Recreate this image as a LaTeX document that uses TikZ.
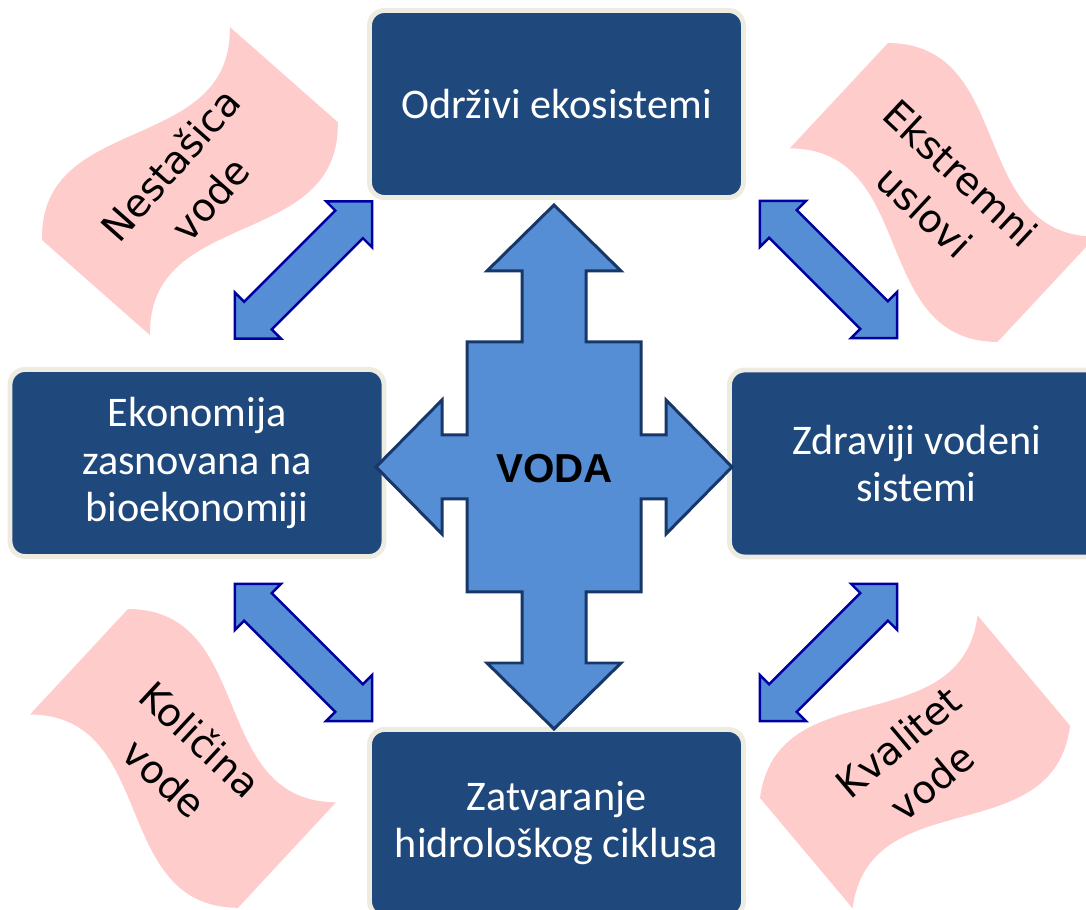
\documentclass[tikz,border=0pt]{standalone}
\usepackage{fontspec}
\setmainfont{Carlito}
\newfontfamily\flagfont{DejaVu Sans}
\newfontfamily\vodafont{Liberation Sans}

\definecolor{boxblue}{RGB}{31,73,125}
\definecolor{boxrim}{RGB}{238,236,225}
\definecolor{arrowblue}{RGB}{85,142,213}
\definecolor{crossline}{RGB}{23,55,105}
\definecolor{dblline}{RGB}{0,0,160}
\definecolor{flagpink}{RGB}{255,204,204}

\tikzset{
  box/.style={rectangle, rounded corners=0.15cm, fill=boxblue, draw=boxrim,
    line width=1.4pt, minimum width=3.74cm, minimum height=1.87cm,
    text=white, align=center, font=\fontsize{12}{13.4}\selectfont},
  dblarrow/.style={fill=arrowblue, draw=dblline, line width=0.7pt},
  flag/.style={fill=flagpink},
  flagtext/.style={align=center, font=\flagfont\fontsize{11}{15}\selectfont},
}

\begin{document}
\begin{tikzpicture}
    \useasboundingbox (0,0) rectangle (10.86,9.10);
    \clip (0,0) rectangle (10.86,9.10);

    % Wavy flags
    \foreach \x/\y/\a/\t/\n in {0.42/6.70/48.6/{Nesta\v{s}ica\\vode}/nestasica,
                                8.88/8.67/-43/{Ekstremni\\uslovi}/ekstremni,
                                1.28/3.01/-42.9/{Koli\v{c}ina\\vode}/kolicina,
                                7.60/1.12/40/{Kvalitet\\vode}/kvalitet} {
      \begin{scope}[shift={(\x,\y)}, rotate=\a]
        \fill[flag] (0,0) .. controls (0.947,0.87) and (1.893,-0.87) .. (2.84,0)
          -- (2.84,-1.44) .. controls (1.893,-2.31) and (0.947,-0.57) .. (0,-1.44) -- cycle;
        \node[flagtext, rotate=\a] (\n) at (1.42,-0.72) {\t};
      \end{scope}
    }

    % Double arrows between the boxes
    \foreach \x/\y/\a in {3.035/6.40/45, 8.285/6.405/-45, 3.035/2.575/-45, 8.285/2.575/45} {
      \draw[dblarrow, shift={(\x,\y)}, rotate=\a]
        (-0.97,0) -- (-0.645,0.325) -- (-0.645,0.195) -- (0.645,0.195) -- (0.645,0.325)
        -- (0.97,0) -- (0.645,-0.325) -- (0.645,-0.195) -- (-0.645,-0.195) -- (-0.645,-0.325) -- cycle;
    }

    % The four boxes
    \node[box] (odrzivi) at (5.565,8.06) {Odr\v{z}ivi ekosistemi};
    \node[box] (ekonomija) at (1.97,4.47) {Ekonomija\\zasnovana na\\bioekonomiji};
    \node[box] (zdraviji) at (9.165,4.465) {Zdraviji vodeni\\sistemi};
    \node[box] (zatvaranje) at (5.565,0.87) {Zatvaranje\\hidrolo\v{s}kog ciklusa};

    % Central cross arrow
    \coordinate (voda) at (5.54,4.43);
    \begin{scope}[shift={(voda)}]
      \draw[fill=arrowblue, draw=crossline, line width=0.85pt]
        (0,2.62) -- (0.67,1.96) -- (0.32,1.96) -- (0.32,1.25) -- (0.87,1.25) -- (0.87,0.32)
        -- (1.12,0.32) -- (1.12,0.67) -- (1.78,0) -- (1.12,-0.67) -- (1.12,-0.32) -- (0.87,-0.32)
        -- (0.87,-1.25) -- (0.32,-1.25) -- (0.32,-1.96) -- (0.67,-1.96) -- (0,-2.62) -- (-0.67,-1.96)
        -- (-0.32,-1.96) -- (-0.32,-1.25) -- (-0.87,-1.25) -- (-0.87,-0.32) -- (-1.12,-0.32)
        -- (-1.12,-0.67) -- (-1.78,0) -- (-1.12,0.67) -- (-1.12,0.32) -- (-0.87,0.32) -- (-0.87,1.25)
        -- (-0.32,1.25) -- (-0.32,1.96) -- (-0.67,1.96) -- cycle;
    \end{scope}
    \node[font=\vodafont\fontsize{11.5}{13}\bfseries\selectfont] (vodatext) at (5.545,4.415) {VODA};

\end{tikzpicture}
\end{document}
